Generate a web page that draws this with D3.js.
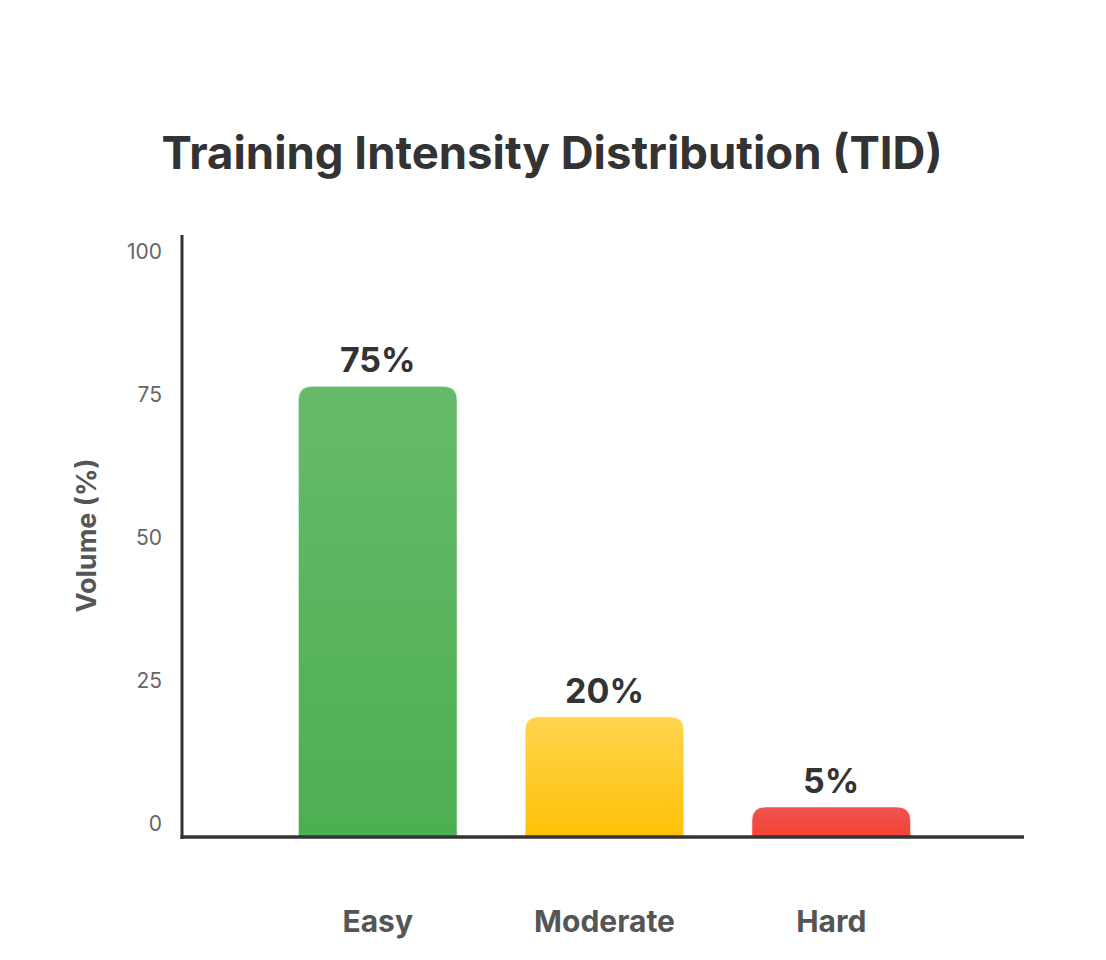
<!DOCTYPE html>
<html>
<head>
<meta charset="utf-8">
<script src="https://cdnjs.cloudflare.com/ajax/libs/d3/7.8.5/d3.min.js"></script>
<style>
  html, body { margin: 0; padding: 0; background: #fff; }
  svg { display: block; font-family: Inter, "Noto Sans", sans-serif; }
</style>
</head>
<body>
<svg id="chart"></svg>
<script>
// chart data
var categories = ["Easy", "Moderate", "Hard"];
var volumes = [75, 20, 5];
var valueLabels = ["75%", "20%", "5%"];
var tickValues = [0, 25, 50, 75, 100];
var colorsTop = ["#66bb6a", "#ffd54f", "#ef5350"];
var colorsBottom = ["#4caf50", "#ffc107", "#f44336"];

var width = 1106, height = 960;

var svg = d3.select("#chart")
    .attr("width", width)
    .attr("height", height);

let x = d3.scaleBand()
    .domain(categories)
    .range([185, 1024])
    .paddingInner(0.3)
    .paddingOuter(0.5);

let y = d3.scaleLinear().domain([0, 100]).range([837, 236]);
// tick labels sit a little inside the bar scale
let yTick = y.copy().range([824, 252]);

// gradients
var defs = svg.append("defs");
categories.forEach((c, i) => {
    var g = defs.append("linearGradient")
        .attr("id", "grad" + i)
        .attr("x1", 0).attr("y1", 0)
        .attr("x2", 0).attr("y2", 1);
    g.append("stop").attr("offset", "0%").attr("stop-color", colorsTop[i]);
    g.append("stop").attr("offset", "100%").attr("stop-color", colorsBottom[i]);
});

// title
svg.append("text")
    .attr("x", 552)
    .attr("y", 169)
    .attr("text-anchor", "middle")
    .style("font-size", "45.5px")
    .style("font-weight", "700")
    .style("fill", "#333")
    .text("Training Intensity Distribution (TID)");

// bars with rounded top corners
function barPath(x0, y0, w, h, r) {
    r = Math.min(r, h, w / 2);
    return "M" + x0 + "," + (y0 + h) +
        "V" + (y0 + r) +
        "Q" + x0 + "," + y0 + " " + (x0 + r) + "," + y0 +
        "H" + (x0 + w - r) +
        "Q" + (x0 + w) + "," + y0 + " " + (x0 + w) + "," + (y0 + r) +
        "V" + (y0 + h) + "Z";
}

var data = categories.map((c, i) => ({cat: c, value: volumes[i], label: valueLabels[i], idx: i}));

svg.selectAll(".bar")
    .data(data)
    .enter().append("path")
    .attr("class", "bar")
    .attr("d", d => barPath(x(d.cat), y(d.value), x.bandwidth(), y(0) - y(d.value), 14))
    .style("fill", d => "url(#grad" + d.idx + ")")
    .style("stroke", "rgba(255,255,255,0.6)")
    .style("stroke-width", 1);

svg.selectAll(".value")
    .data(data)
    .enter().append("text")
    .attr("class", "value")
    .attr("x", d => x(d.cat) + x.bandwidth() / 2)
    .attr("y", d => y(d.value) - 14)
    .attr("text-anchor", "middle")
    .style("font-size", "34px")
    .style("font-weight", "700")
    .style("fill", "#333")
    .text(d => d.label);

// y tick labels
var yAxis = d3.axisLeft(yTick)
    .tickValues(tickValues)
    .tickSize(0)
    .tickPadding(20);

var yg = svg.append("g")
    .attr("transform", "translate(182,0)")
    .call(yAxis);
yg.select(".domain").remove();
yg.selectAll("text")
    .style("font-family", "Inter, 'Noto Sans', sans-serif")
    .style("font-size", "21px")
    .style("fill", "#666");

// axis lines
svg.append("line")
    .attr("x1", 182).attr("x2", 182)
    .attr("y1", y(100) - 1).attr("y2", y(0) + 2)
    .style("stroke", "#333")
    .style("stroke-width", 3);

svg.append("line")
    .attr("x1", 180.5).attr("x2", x.range()[1])
    .attr("y1", y(0)).attr("y2", y(0))
    .style("stroke", "#333")
    .style("stroke-width", 3.5);

// category labels
svg.selectAll(".cat")
    .data(categories)
    .enter().append("text")
    .attr("class", "cat")
    .attr("x", d => x(d) + x.bandwidth() / 2)
    .attr("y", 932)
    .attr("text-anchor", "middle")
    .style("font-size", "30px")
    .style("font-weight", "700")
    .style("fill", "#555")
    .text(d => d);

// y axis title
svg.append("text")
    .attr("transform", "rotate(-90)")
    .attr("x", -535.5)
    .attr("y", 96)
    .attr("text-anchor", "middle")
    .style("font-size", "27px")
    .style("font-weight", "700")
    .style("fill", "#555")
    .text("Volume (%)");
</script>
</body>
</html>
